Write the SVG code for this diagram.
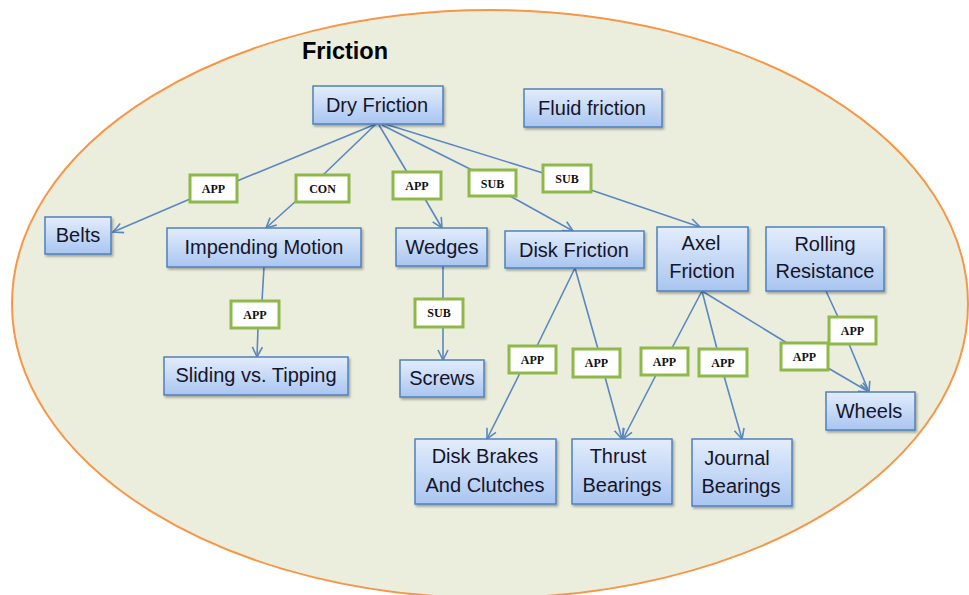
<svg xmlns="http://www.w3.org/2000/svg" width="969" height="595" viewBox="0 0 969 595">
<defs>
<linearGradient id="bg" x1="0" y1="0" x2="0" y2="1">
<stop offset="0" stop-color="#e3edfc"/>
<stop offset="1" stop-color="#a9c5f0"/>
</linearGradient>
<marker id="arr" viewBox="0 0 12 12" refX="11" refY="6" markerWidth="12" markerHeight="12" markerUnits="userSpaceOnUse" orient="auto">
<path d="M1,1 L11,6 L1,11" fill="none" stroke="#5b87c0" stroke-width="1.6"/>
</marker>
<filter id="sh" x="-10%" y="-10%" width="130%" height="140%">
<feDropShadow dx="1.5" dy="2" stdDeviation="1" flood-color="#000" flood-opacity="0.3"/>
</filter>
</defs>
<style>
.nb{fill:url(#bg);stroke:#4f81bd;stroke-width:1.5;filter:url(#sh)}
.nt{font-family:"Liberation Sans",Arial,sans-serif;font-size:20px;fill:#15152a;text-anchor:middle}
.lb{fill:#fff;stroke:#8fb84a;stroke-width:3}
.lt{font-family:"Liberation Serif","Times New Roman",serif;font-weight:bold;font-size:12px;fill:#111;text-anchor:middle}
.c{fill:none;stroke:#5b87c0;stroke-width:1.6}
.a{marker-end:url(#arr)}
</style>
<ellipse cx="490" cy="304" rx="478" ry="294" fill="#ebeedd" stroke="#f79646" stroke-width="2"/>
<text x="345" y="59" font-family="Liberation Sans,Arial,sans-serif" font-weight="bold" font-size="23.5" fill="#000" text-anchor="middle">Friction</text>

<g id="connectors">
<line class="c" x1="376" y1="124" x2="237" y2="181"/>
<line class="c a" x1="190" y1="199" x2="113" y2="232"/>
<line class="c" x1="376" y1="124" x2="323" y2="175"/>
<line class="c a" x1="296" y1="201" x2="266" y2="228"/>
<line class="c" x1="379" y1="125" x2="407" y2="172"/>
<line class="c a" x1="425" y1="199" x2="442" y2="228"/>
<line class="c" x1="382" y1="125" x2="472" y2="170"/>
<line class="c a" x1="510" y1="196" x2="573" y2="231"/>
<line class="c" x1="385" y1="124" x2="543" y2="173"/>
<line class="c a" x1="591" y1="190" x2="700" y2="227"/>
<line class="c" x1="264" y1="267" x2="262" y2="301"/>
<line class="c a" x1="258" y1="328" x2="257" y2="357"/>
<line class="c" x1="443" y1="266" x2="443" y2="299"/>
<line class="c a" x1="443" y1="327" x2="443" y2="360"/>
<line class="c" x1="575" y1="268" x2="537" y2="346"/>
<line class="c a" x1="520" y1="373" x2="487" y2="439"/>
<line class="c" x1="575" y1="268" x2="598" y2="349"/>
<line class="c a" x1="605" y1="377" x2="622" y2="439"/>
<line class="c" x1="702" y1="291" x2="672" y2="348"/>
<line class="c a" x1="656" y1="375" x2="623" y2="439"/>
<line class="c" x1="702" y1="291" x2="717" y2="349"/>
<line class="c a" x1="724" y1="376" x2="742" y2="439"/>
<line class="c" x1="702" y1="291" x2="787" y2="343"/>
<line class="c a" x1="828" y1="368" x2="869" y2="392"/>
<line class="c" x1="826" y1="291" x2="838" y2="317"/>
<line class="c a" x1="849" y1="344" x2="869" y2="392"/>
</g>

<g id="lbl-app-belts"><rect class="lb" x="190" y="175" width="47" height="27"/><text class="lt" x="213.5" y="193">APP</text></g>
<g id="lbl-con"><rect class="lb" x="296" y="175" width="53" height="27"/><text class="lt" x="322.5" y="193">CON</text></g>
<g id="lbl-app-wedges"><rect class="lb" x="393" y="172" width="48" height="27"/><text class="lt" x="417" y="190">APP</text></g>
<g id="lbl-sub-disk"><rect class="lb" x="469" y="170" width="47" height="26"/><text class="lt" x="492.5" y="188">SUB</text></g>
<g id="lbl-sub-axel"><rect class="lb" x="543" y="165" width="48" height="27"/><text class="lt" x="567" y="183">SUB</text></g>
<g id="lbl-app-sliding"><rect class="lb" x="231" y="301" width="48" height="27"/><text class="lt" x="255" y="319">APP</text></g>
<g id="lbl-sub-screws"><rect class="lb" x="415" y="299" width="48" height="28"/><text class="lt" x="439" y="317">SUB</text></g>
<g id="lbl-app-brakes"><rect class="lb" x="509" y="346" width="47" height="27"/><text class="lt" x="532.5" y="364">APP</text></g>
<g id="lbl-app-thrust1"><rect class="lb" x="573" y="349" width="47" height="28"/><text class="lt" x="596.5" y="367">APP</text></g>
<g id="lbl-app-thrust2"><rect class="lb" x="641" y="348" width="47" height="27"/><text class="lt" x="664.5" y="366">APP</text></g>
<g id="lbl-app-journal"><rect class="lb" x="699" y="349" width="48" height="27"/><text class="lt" x="723" y="367">APP</text></g>
<g id="lbl-app-wheels1"><rect class="lb" x="781" y="343" width="47" height="27"/><text class="lt" x="804.5" y="361">APP</text></g>
<g id="lbl-app-wheels2"><rect class="lb" x="829" y="317" width="47" height="27"/><text class="lt" x="852.5" y="335">APP</text></g>

<g id="dry-friction"><rect class="nb" x="313" y="86" width="130" height="38"/><text class="nt" x="377" y="112">Dry Friction</text></g>
<g id="fluid-friction"><rect class="nb" x="524" y="89" width="138" height="38"/><text class="nt" x="592" y="115">Fluid friction</text></g>
<g id="belts"><rect class="nb" x="45" y="217" width="66" height="37"/><text class="nt" x="78" y="242">Belts</text></g>
<g id="impending-motion"><rect class="nb" x="167" y="228" width="194" height="39"/><text class="nt" x="264" y="254">Impending Motion</text></g>
<g id="wedges"><rect class="nb" x="396" y="228" width="91" height="38"/><text class="nt" x="442" y="254">Wedges</text></g>
<g id="disk-friction"><rect class="nb" x="505" y="231" width="139" height="37"/><text class="nt" x="574" y="257">Disk Friction</text></g>
<g id="axel-friction"><rect class="nb" x="657" y="227" width="91" height="64"/><text class="nt" x="701" y="250">Axel</text><text class="nt" x="702" y="278">Friction</text></g>
<g id="rolling-resistance"><rect class="nb" x="766" y="227" width="118" height="64"/><text class="nt" x="825" y="251">Rolling</text><text class="nt" x="825" y="278">Resistance</text></g>
<g id="sliding-tipping"><rect class="nb" x="164" y="357" width="184" height="38"/><text class="nt" x="256" y="382">Sliding vs. Tipping</text></g>
<g id="screws"><rect class="nb" x="400" y="360" width="84" height="37"/><text class="nt" x="442" y="385">Screws</text></g>
<g id="disk-brakes"><rect class="nb" x="415" y="439" width="141" height="65"/><text class="nt" x="485" y="463">Disk Brakes</text><text class="nt" x="485" y="492">And Clutches</text></g>
<g id="thrust-bearings"><rect class="nb" x="572" y="439" width="100" height="65"/><text class="nt" x="618" y="463">Thrust</text><text class="nt" x="622" y="492">Bearings</text></g>
<g id="journal-bearings"><rect class="nb" x="692" y="439" width="100" height="67"/><text class="nt" x="737" y="465">Journal</text><text class="nt" x="741" y="493">Bearings</text></g>
<g id="wheels"><rect class="nb" x="826" y="392" width="89" height="38"/><text class="nt" x="869" y="418">Wheels</text></g>
</svg>
